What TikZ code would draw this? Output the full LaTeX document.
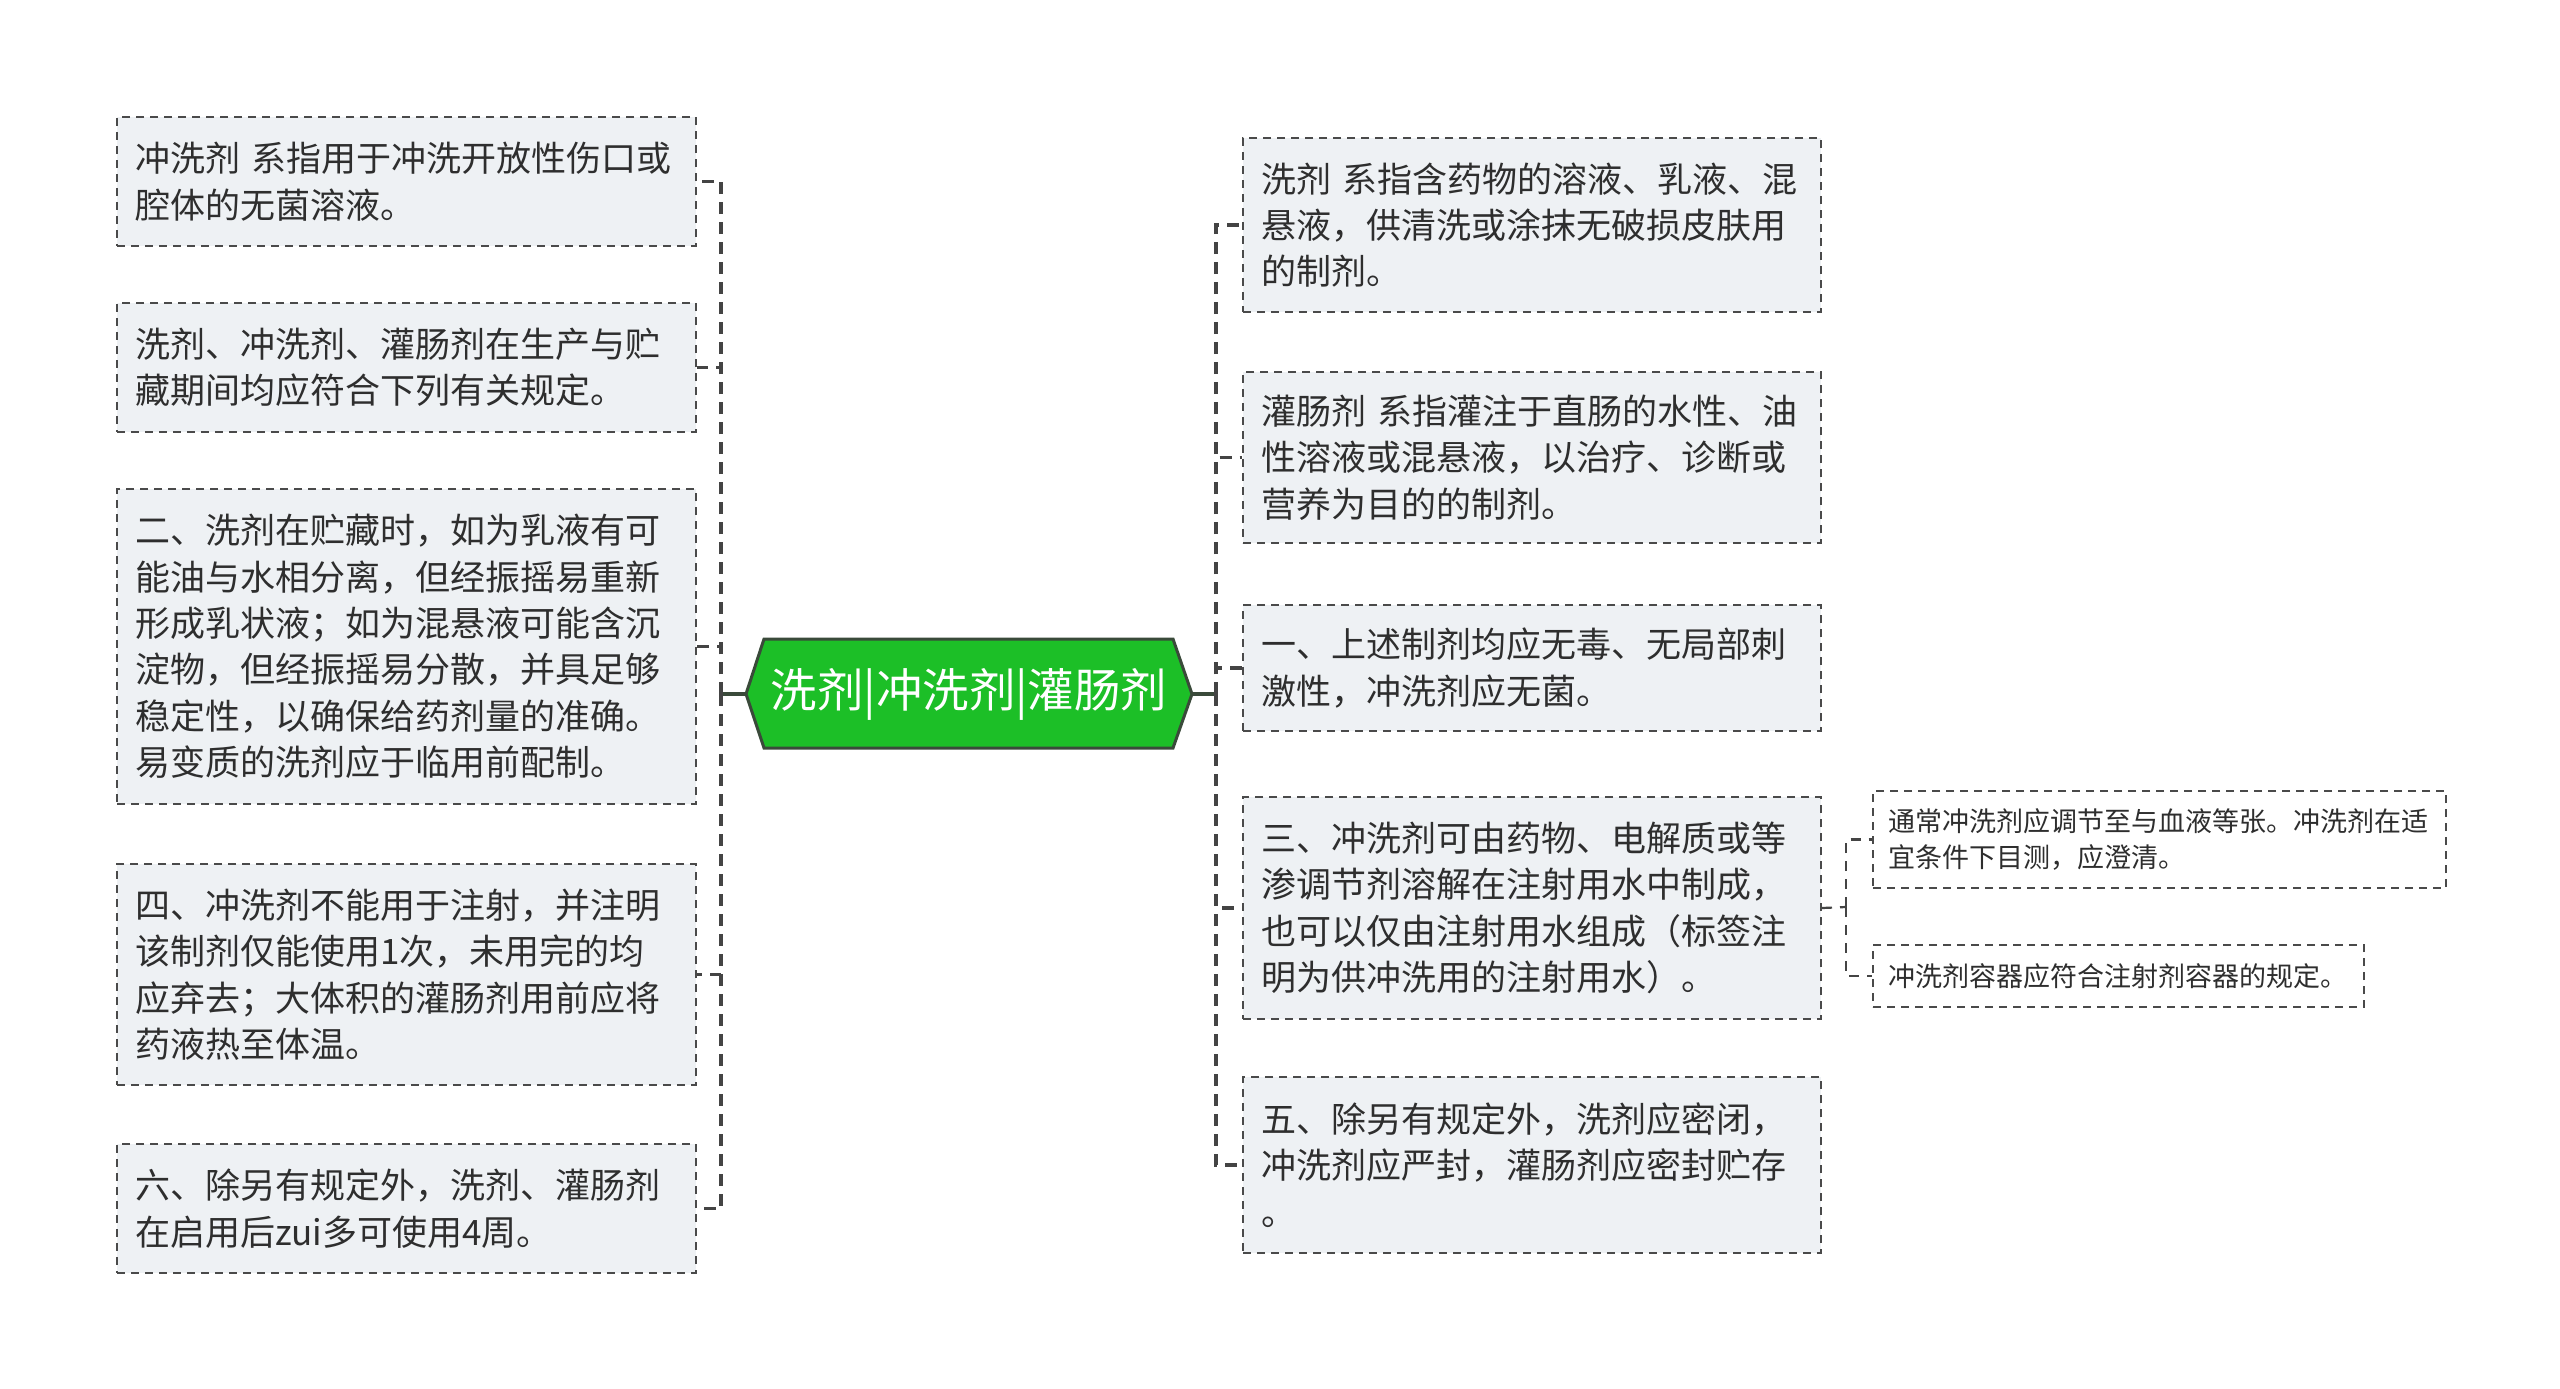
\documentclass[tikz,border=0pt]{standalone}
\usepackage{fontspec}
\setmainfont{Noto Sans CJK SC}
\definecolor{boxfill}{HTML}{EEF1F4}
\definecolor{boxline}{HTML}{4A4A4A}
\definecolor{connline}{HTML}{444444}
\definecolor{txt}{HTML}{2E2E2E}
\definecolor{hexgreen}{HTML}{1CBF27}
\definecolor{hexline}{HTML}{3A4A3A}
\tikzset{
  leafbox/.style 2 args={draw=boxline, fill=boxfill, line width=1pt,
    dash pattern=on 4pt off 3pt, rectangle, anchor=north west,
    inner xsep=9pt, inner ysep=0pt, text width=#1, minimum height=#2,
    align=left, text=txt, font=\fontsize{17.5}{23.2}\selectfont},
  subbox/.style 2 args={draw=boxline, fill=white, line width=1pt,
    dash pattern=on 4pt off 3pt, rectangle, anchor=north west,
    inner xsep=7.5pt, inner ysep=0pt, text width=#1, minimum height=#2,
    align=left, text=txt, font=\fontsize{13.5}{18}\selectfont},
  conn/.style={draw=connline, line width=1.6pt, dash pattern=on 6pt off 4pt},
  subconn/.style={draw=connline, line width=1.1pt, dash pattern=on 5pt off 4pt},
  solidconn/.style={draw=hexline, line width=1.6pt},
}
\begin{document}
\begin{tikzpicture}[x=0.5pt,y=-0.5pt]
\useasboundingbox[fill=white] (0,0) rectangle (2560,1388);

% left boxes
\node[leafbox={271.5pt}{64.5pt}] (L1) at (116,116) {冲洗剂 系指用于冲洗开放性伤口或\\腔体的无菌溶液。};
\node[leafbox={271.5pt}{64.5pt}] (L2) at (116,302) {洗剂、冲洗剂、灌肠剂在生产与贮\\藏期间均应符合下列有关规定。};
\node[leafbox={271.5pt}{157.5pt}] (L3) at (116,488) {二、洗剂在贮藏时，如为乳液有可\\能油与水相分离，但经振摇易重新\\形成乳状液；如为混悬液可能含沉\\淀物，但经振摇易分散，并具足够\\稳定性，以确保给药剂量的准确。\\易变质的洗剂应于临用前配制。};
\node[leafbox={271.5pt}{110.5pt}] (L4) at (116,863) {四、冲洗剂不能用于注射，并注明\\该制剂仅能使用1次，未用完的均\\应弃去；大体积的灌肠剂用前应将\\药液热至体温。};
\node[leafbox={271.5pt}{64.5pt}] (L5) at (116,1143) {六、除另有规定外，洗剂、灌肠剂\\在启用后zui多可使用4周。};

% right boxes
\node[leafbox={271pt}{87pt}] (R1) at (1242,137) {洗剂 系指含药物的溶液、乳液、混\\悬液，供清洗或涂抹无破损皮肤用\\的制剂。};
\node[leafbox={271pt}{85.5pt}] (R2) at (1242,371) {灌肠剂 系指灌注于直肠的水性、油\\性溶液或混悬液，以治疗、诊断或\\营养为目的的制剂。};
\node[leafbox={271pt}{63pt}] (R3) at (1242,604) {一、上述制剂均应无毒、无局部刺\\激性，冲洗剂应无菌。};
\node[leafbox={271pt}{111pt}] (R4) at (1242,796) {三、冲洗剂可由药物、电解质或等\\渗调节剂溶解在注射用水中制成，\\也可以仅由注射用水组成（标签注\\明为供冲洗用的注射用水）。};
\node[leafbox={271pt}{88pt}] (R5) at (1242,1076) {五、除另有规定外，洗剂应密闭，\\冲洗剂应严封，灌肠剂应密封贮存\\。};

% sub boxes
\node[subbox={271.5pt}{48.5pt}] (Sa) at (1872,790) {通常冲洗剂应调节至与血液等张。冲洗剂在适\\宜条件下目测，应澄清。};
\node[subbox={230.5pt}{31pt}] (Sb) at (1872,944) {冲洗剂容器应符合注射剂容器的规定。};

% central hexagon
\filldraw[fill=hexgreen, draw=hexline, line width=1.5pt]
  (746,694) -- (764,639) -- (1173,639) -- (1192,694) -- (1173,748) -- (764,748) -- cycle;
\node[text=white, font=\fontsize{23.2}{26}\selectfont, inner sep=0pt] (C) at (969,694) {洗剂|冲洗剂|灌肠剂};

\coordinate (cl) at (746,694);
\coordinate (cr) at (1192,694);
\coordinate (hl) at (721,694);
\coordinate (hr) at (1216,694);
\coordinate (hs) at (1846,907);

\draw[solidconn] (cl) -- (hl);
\draw[solidconn] (cr) -- (hr);
\draw[solidconn] ([yshift=-5pt]hl) -- ([yshift=5pt]hl);
\draw[solidconn] ([yshift=-5pt]hr) -- ([yshift=5pt]hr);

\foreach \n in {L1,L2,L3,L4,L5} { \draw[conn] (hl) |- (\n.east); }
\foreach \n in {R1,R2,R3,R4,R5} { \draw[conn] (hr) |- (\n.west); }

\draw[subconn] (R4.east) -- (hs);
\draw[subconn] (hs) |- (Sa.west);
\draw[subconn] (hs) |- (Sb.west);
\end{tikzpicture}
\end{document}
